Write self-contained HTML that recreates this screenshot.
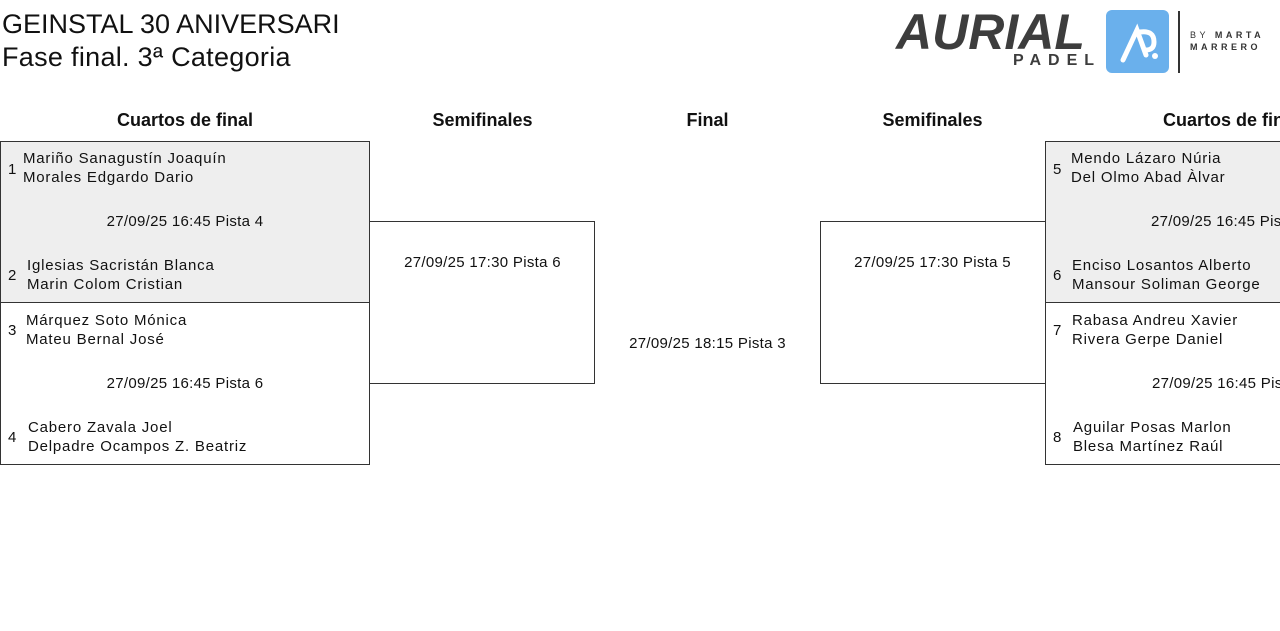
<!DOCTYPE html>
<html><head><meta charset="utf-8"><style>
body{margin:0;width:1280px;height:631px;overflow:hidden;background:#fff;font-family:"Liberation Sans",sans-serif;color:#111;position:relative}
.a{position:absolute;white-space:nowrap;font-size:15px;line-height:19px;letter-spacing:0.8px}
.b{position:absolute;border:1px solid #333;box-sizing:border-box}
.h{position:absolute;font-size:18px;font-weight:bold;line-height:22px;text-align:center;white-space:nowrap}
.c{position:absolute;text-align:center;font-size:15px;line-height:19px;white-space:nowrap;letter-spacing:0.3px}
</style></head><body>
<div class="a" style="left:2px;top:8px;font-size:27px;line-height:32px;letter-spacing:0">GEINSTAL 30 ANIVERSARI</div>
<div class="a" style="left:2px;top:41px;font-size:27px;line-height:32px;letter-spacing:0.3px">Fase final. 3ª Categoria</div>
<!-- logo -->
<div class="a" style="left:896px;top:4px;font-size:50px;line-height:56px;font-weight:bold;font-style:italic;color:#3d3d3d;letter-spacing:0">AURIAL</div>
<div class="a" style="left:1013px;top:51px;font-size:16px;font-weight:bold;color:#3d3d3d;letter-spacing:7px">PADEL</div>
<div style="position:absolute;left:1106px;top:10px;width:63px;height:63px;background:#6ab0ec;border-radius:6px"></div>
<svg style="position:absolute;left:1106px;top:10px" width="63" height="63"><path d="M17 50 L31 20 L40 45 M34 22 Q48 20 48 32 Q48 40 40 40" stroke="#fff" stroke-width="5" fill="none" stroke-linecap="round"/><circle cx="49" cy="46" r="3" fill="#fff"/></svg>
<div style="position:absolute;left:1178px;top:11px;width:2px;height:62px;background:#333"></div>
<div class="a" style="left:1190px;top:30px;font-size:9px;line-height:10px;letter-spacing:3.5px;color:#333">BY <b>MARTA</b></div>
<div class="a" style="left:1190px;top:42px;font-size:9px;line-height:10px;letter-spacing:3.5px;color:#333;font-weight:bold">MARRERO</div>
<!-- headers -->
<div class="h" style="left:0;width:370px;top:109px">Cuartos de final</div>
<div class="h" style="left:370px;width:225px;top:109px">Semifinales</div>
<div class="h" style="left:595px;width:225px;top:109px">Final</div>
<div class="h" style="left:820px;width:225px;top:109px">Semifinales</div>
<div class="h" style="left:1163px;top:109px">Cuartos de final</div>
<!-- boxes -->
<div class="b" style="left:0;top:141px;width:370px;height:162px;background:#eee"></div>
<div class="b" style="left:0;top:302px;width:370px;height:163px"></div>
<div class="b" style="left:369px;top:221px;width:226px;height:163px"></div>
<div class="b" style="left:820px;top:221px;width:226px;height:163px"></div>
<div class="b" style="left:1045px;top:141px;width:240px;height:162px;background:#eee"></div>
<div class="b" style="left:1045px;top:302px;width:240px;height:163px"></div>

<div class="a" style="left:8px;top:160px">1</div>
<div class="a" style="left:23px;top:149px">Mariño Sanagustín Joaquín<br>Morales Edgardo Dario</div>
<div class="c" style="left:0;width:370px;top:212px">27/09/25 16:45 Pista 4</div>
<div class="a" style="left:8px;top:266px">2</div>
<div class="a" style="left:27px;top:256px">Iglesias Sacristán Blanca<br>Marin Colom Cristian</div>
<div class="a" style="left:8px;top:321px">3</div>
<div class="a" style="left:26px;top:311px">Márquez Soto Mónica<br>Mateu Bernal José</div>
<div class="c" style="left:0;width:370px;top:374px">27/09/25 16:45 Pista 6</div>
<div class="a" style="left:8px;top:428px">4</div>
<div class="a" style="left:28px;top:418px">Cabero Zavala Joel<br>Delpadre Ocampos Z. Beatriz</div>

<div class="c" style="left:370px;width:225px;top:253px">27/09/25 17:30 Pista 6</div>
<div class="c" style="left:595px;width:225px;top:334px">27/09/25 18:15 Pista 3</div>
<div class="c" style="left:820px;width:225px;top:253px">27/09/25 17:30 Pista 5</div>

<div class="a" style="left:1053px;top:160px">5</div>
<div class="a" style="left:1071px;top:149px">Mendo Lázaro Núria<br>Del Olmo Abad Àlvar</div>
<div class="c" style="left:1151px;top:212px">27/09/25 16:45 Pista 4</div>
<div class="a" style="left:1053px;top:266px">6</div>
<div class="a" style="left:1072px;top:256px">Enciso Losantos Alberto<br>Mansour Soliman George</div>
<div class="a" style="left:1053px;top:321px">7</div>
<div class="a" style="left:1072px;top:311px">Rabasa Andreu Xavier<br>Rivera Gerpe Daniel</div>
<div class="c" style="left:1152px;top:374px">27/09/25 16:45 Pista 6</div>
<div class="a" style="left:1053px;top:428px">8</div>
<div class="a" style="left:1073px;top:418px">Aguilar Posas Marlon<br>Blesa Martínez Raúl</div>
</body></html>
